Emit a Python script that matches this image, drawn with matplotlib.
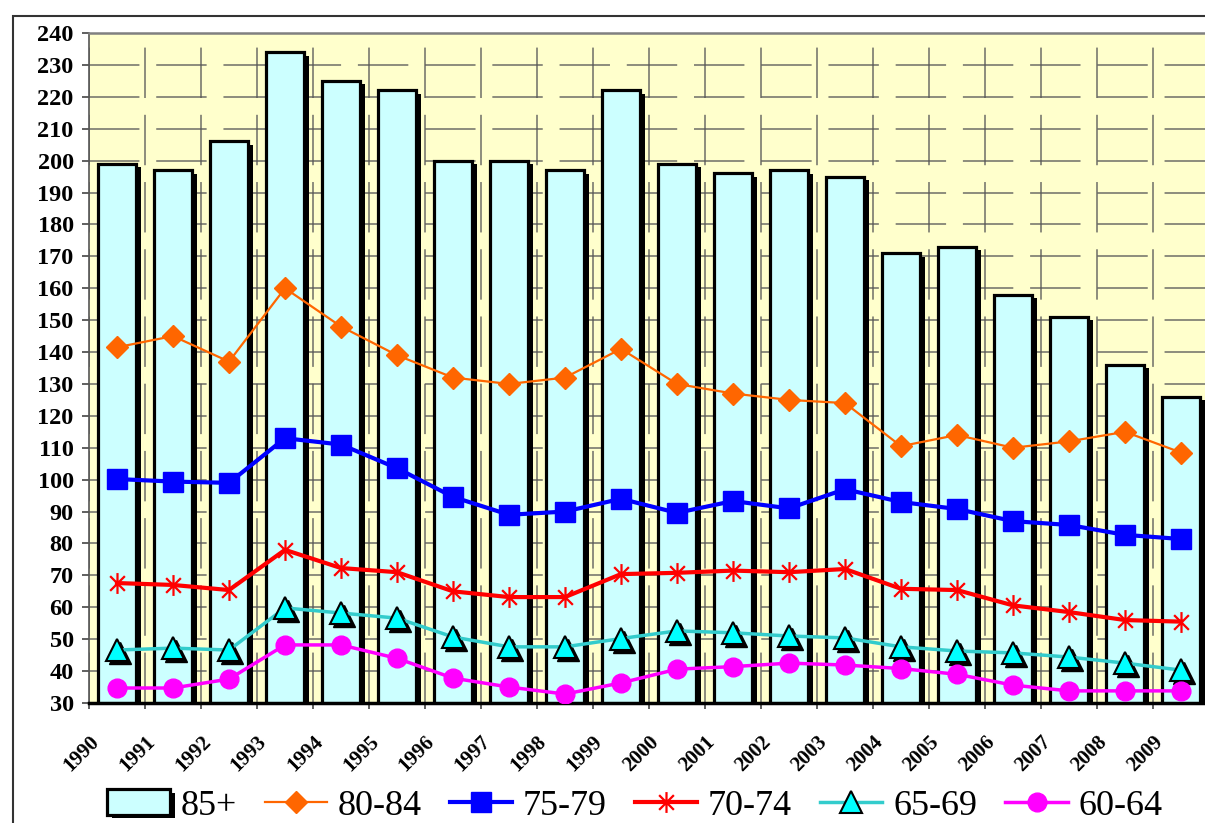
import matplotlib
matplotlib.use("Agg")
import matplotlib.pyplot as plt
import matplotlib.patheffects as pe
import matplotlib.transforms as mtransforms
from matplotlib.path import Path
from matplotlib.patches import Rectangle
import numpy as np

years = [str(y) for y in range(1990, 2010)]
s85 = [199, 197, 206, 234, 225, 222, 200, 200, 197, 222, 199, 196, 197, 195, 171, 173, 158, 151, 136, 126]
s80 = [141.5, 145, 137, 160, 148, 139, 132, 130, 132, 141, 130, 127, 125, 124, 110.5, 114, 110, 112, 115, 108.5]
s75 = [100.2, 99.4, 99, 113, 111, 103.6, 94.6, 89, 90, 94, 89.6, 93.3, 91, 97, 93, 90.8, 87, 85.8, 82.7, 81.4]
s70 = [67.6, 67, 65.4, 78, 72.3, 71, 65, 63.2, 63.2, 70.4, 70.8, 71.5, 71, 72, 65.8, 65.4, 60.6, 58.5, 56, 55.5]
s65 = [46.6, 47.2, 46.6, 59.8, 58.2, 56.6, 50.7, 47.6, 47.6, 50.2, 52.6, 52, 51, 50.4, 47.6, 46.3, 45.7, 44.4, 42.5, 40.3]
s60 = [34.7, 34.7, 37.5, 48.2, 48.2, 44, 37.8, 35, 32.8, 36.3, 40.6, 41.4, 42.5, 41.9, 40.8, 39, 35.6, 33.8, 33.8, 33.8]
labels = ["85+", "80-84", "75-79", "70-74", "65-69", "60-64"]
yticks = list(range(30, 241, 10))

plt.rcParams['font.family'] = ['Liberation Serif', 'DejaVu Serif']

fig = plt.figure(figsize=(12.05, 8.23), dpi=100)
fig.patch.set_facecolor('white')
# outer chart border
fig.patches.append(Rectangle((13/1205, -0.1), 1.2, 0.1 + 1 - 16/823, transform=fig.transFigure,
                             fill=False, edgecolor='#333333', lw=1.5))

ax = fig.add_axes([89/1205, 120/823, 1120/1205, 670/823])
ax.set_facecolor('#FFFFCC')
x = np.arange(len(years))

# asterisk marker (vertical + X)
d = 0.7071
ast = Path([(0, -1), (0, 1), (-d, -d), (d, d), (-d, d), (d, -d)],
           [Path.MOVETO, Path.LINETO, Path.MOVETO, Path.LINETO, Path.MOVETO, Path.LINETO])

bars = ax.bar(x, s85, width=0.67, bottom=0, color='#CCFFFF', edgecolor='black', lw=2.3,
              label=labels[0], zorder=2)
for b in bars:
    b.set_path_effects([pe.SimplePatchShadow(offset=(3.6, -2.5), shadow_rgbFace='black', alpha=1),
                        pe.Normal()])

ax.plot(x, s80, color='#FF6600', lw=1.6, marker='D', ms=11.5, mfc='#FF6600', mec='#FF6600',
        label=labels[1], zorder=4)
ax.plot(x, s75, color='#0000FF', lw=3, marker='s', ms=14, mfc='#0000FF', mec='#0000FF',
        label=labels[2], zorder=4)
ax.plot(x, s70, color='#FF0000', lw=3, marker=ast, ms=15, mfc='none', mec='#FF0000', mew=1.6,
        label=labels[3], zorder=4)
shadow_tr = mtransforms.offset_copy(ax.transData, fig=fig, x=2.2, y=-2.2, units='points')
ax.plot(x, s65, ls='none', marker='^', ms=15.5, mfc='black', mec='black', transform=shadow_tr, zorder=4)
ax.plot(x, s65, color='#33CCCC', lw=2.5, marker='^', ms=15.5, mfc='#00FFFF', mec='black', mew=1.5,
        label=labels[4], zorder=4)
ax.plot(x, s60, color='#FF00FF', lw=2.5, marker='o', ms=13.5, mfc='#FF00FF', mec='#FF00FF',
        label=labels[5], zorder=4)

ax.set_xlim(-0.5, len(years) - 0.5)
ax.set_ylim(30, 240)
ax.set_yticks(yticks)
ax.set_yticklabels([str(v) for v in yticks])
ax.tick_params(axis='y', direction='out', length=5, width=1.2, pad=6, color='#444444', labelsize=17.5)
for t in ax.get_yticklabels():
    t.set_fontweight('bold')

ax.set_xticks(np.arange(len(years) + 1) - 0.5)
ax.set_xticklabels([])
ax.set_xticks(x - 0.25, minor=True)
ax.set_xticklabels(years, minor=True)
ax.tick_params(axis='x', which='major', direction='out', length=4.5, width=1.2, color='#444444')
ax.tick_params(axis='x', which='minor', length=0, pad=21, labelsize=15)
for t in ax.get_xticklabels(minor=True):
    t.set_fontweight('bold')
    t.set_rotation(45)
    t.set_ha('right')
    t.set_va('top')

ax.set_axisbelow(True)
ax.grid(True, which='major', axis='both', color='#555555', lw=1.1,
        linestyle=(0, (33, 11)), alpha=0.85)

ax.spines['right'].set_visible(False)
ax.spines['top'].set_color('#808080')
ax.spines['top'].set_linewidth(1.8)
ax.spines['left'].set_color('#555555')
ax.spines['left'].set_linewidth(1.2)
ax.spines['bottom'].set_color('black')
ax.spines['bottom'].set_linewidth(2.5)
ax.spines['bottom'].set_zorder(3)

handles, labs = ax.get_legend_handles_labels()
order = [labs.index(l) for l in labels]
leg = fig.legend([handles[i] for i in order], [labs[i] for i in order], loc='center',
                 bbox_to_anchor=(635/1205, 1 - 806/823), ncol=6, frameon=False,
                 fontsize=26, handlelength=1.72, handletextpad=0.3, columnspacing=0.78,
                 numpoints=1, borderpad=0.1)

fig.savefig('out.png', dpi=100, facecolor='white')
